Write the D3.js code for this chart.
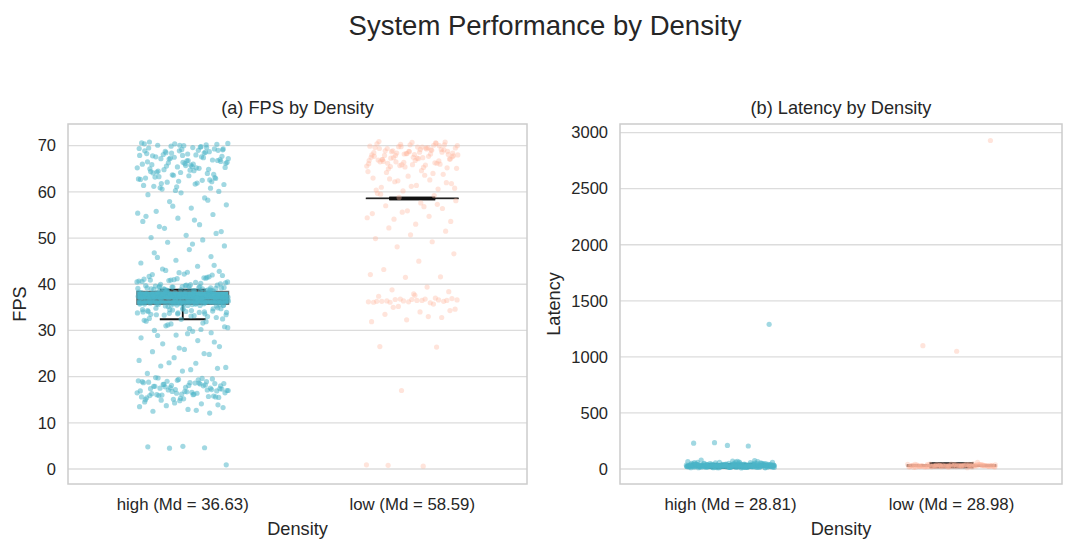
<!DOCTYPE html>
<html>
<head>
<meta charset="utf-8">
<script src="https://cdn.jsdelivr.net/npm/d3@7"></script>
<style>
  body { margin: 0; background: #fff; }
  text { font-family: "Liberation Sans", Arial, sans-serif; fill: #262626; }
</style>
</head>
<body>
<svg id="mainsvg" width="1070" height="540"></svg>
<script>
const svg = d3.select('#mainsvg');

// ---- data ----
const categories = ['high', 'low'];
const fpsMedians = [36.63, 58.59];
const latencyMedians = [28.81, 28.98];
const fpsTicks = [0, 10, 20, 30, 40, 50, 60, 70];
const latencyTicks = [0, 500, 1000, 1500, 2000, 2500, 3000];

// box stats: [whiskerLo, q1, median, q3, whiskerHi]
const fpsBoxHigh = [32.4, 35.65, 36.63, 38.46, 38.8];
const fpsBoxLow = [58.59, 58.55, 58.59, 58.63, 58.59];
const latencyBoxHigh = [12, 21, 28.81, 36, 44];
const latencyBoxLow = [15, 24, 28.98, 36, 50];

const fpsHigh = [
  70.8, 70.2, 69.9, 70.5, 69.6, 70.1, 69.3, 68.9, 70.4, 69.8, 68.5, 69.1, 68.2, 67.8, 68.7, 67.5, 69.4, 68.0, 67.2, 66.8,
  67.9, 66.5, 68.4, 67.1, 66.2, 65.8, 67.6, 66.9, 65.4, 66.0, 65.1, 64.8, 66.6, 65.7, 64.4, 64.0, 63.7, 65.2, 64.6, 63.3,
  62.9, 64.2, 63.0, 62.5, 62.1, 61.6, 63.5, 61.2, 60.8, 60.3, 62.7, 61.9, 60.6, 60.1, 70.0, 69.5, 68.6, 67.3, 66.4, 65.5,
  64.3, 63.8, 62.3, 61.4, 69.7, 68.8, 67.7, 66.7, 65.9, 64.9, 63.6, 62.8, 61.7, 60.9, 70.3, 69.2, 68.3, 67.4, 66.3, 65.3,
  64.7, 63.2, 62.2, 61.1, 70.6, 69.0, 68.1, 67.0, 66.1, 65.0, 69.6, 68.4, 67.2, 66.0, 64.5, 63.1, 70.1, 68.9, 67.6, 65.6,
  69.3, 66.8, 64.1, 62.6, 70.4, 67.9, 65.2, 61.8, 69.0, 66.4,
  59.4, 58.7, 57.9, 57.2, 56.5, 55.8, 55.1, 54.3, 53.6, 52.9, 52.1, 51.4, 50.6, 50.1, 58.2, 56.9, 55.4, 53.9, 52.5, 51.0,
  59.8, 54.7,
  49.6, 49.1, 48.3, 47.5, 46.8, 46.0, 45.2, 44.6, 43.9, 43.3, 42.8, 42.2, 41.7, 41.3, 40.9, 40.5, 48.7, 45.8, 44.1, 42.5,
  41.1, 40.2, 43.0, 41.9, 42.6, 42.1, 41.6, 41.0, 40.7, 40.4, 40.0, 39.8, 39.5, 39.2, 41.4, 40.8, 40.3, 39.9, 39.6, 42.0,
  41.2, 40.6, 39.3, 39.0, 40.1, 39.7, 40.9, 41.5, 39.4, 40.5,
  38.6, 37.2, 36.4, 35.8, 37.9, 36.9, 38.2, 35.5, 36.1, 37.5, 38.8, 36.7, 35.9, 37.0, 38.4, 36.3, 35.6, 37.7, 36.0, 38.0,
  37.3, 36.6, 35.7, 38.5, 36.8, 37.1, 35.4, 38.1, 36.2, 37.6, 36.5, 38.3, 35.8, 37.4, 36.9, 38.7, 35.3, 37.8, 36.4, 37.0,
  35.2, 36.7, 38.9, 37.3, 36.1, 35.9, 38.2, 36.6, 37.5, 35.6, 37.9, 36.3, 38.6, 35.5, 37.2, 36.8, 38.0, 36.0, 37.7, 35.7,
  36.5, 38.4, 37.1, 35.4, 36.9, 38.1, 37.6, 36.2, 35.8, 37.4, 34.9, 34.6, 34.3, 34.0, 33.7, 33.4, 33.1, 34.8, 34.2, 33.6,
  34.5, 33.9, 33.3, 34.7, 34.1, 33.5, 33.0, 34.4, 33.8, 33.2, 39.4, 39.1, 38.8, 39.7, 39.0, 38.7, 39.3, 39.6, 38.9, 39.2,
  36.6, 37.0, 36.3, 37.4, 36.8, 35.9, 37.2, 36.1, 37.8, 36.5, 35.6, 38.2, 36.7, 37.5, 36.0, 38.5, 35.3, 37.1, 36.4, 37.9,
  37.6, 36.2, 38.3, 35.7, 36.9, 37.3, 36.5, 38.0, 35.8, 37.0, 36.6, 37.7, 36.3, 38.6, 35.5, 37.2, 36.8, 37.9, 36.1, 38.4,
  35.9, 36.7, 37.4, 36.4, 38.1, 35.6, 37.1, 36.0, 37.8, 36.9, 38.7, 35.4, 36.6, 37.5, 36.2, 38.2, 35.7, 37.0, 36.5, 37.6,
  34.8, 34.1, 33.6, 34.5, 33.9, 34.3, 33.4, 34.7, 33.8, 34.0, 39.5, 38.9, 39.2, 39.8, 39.0, 38.8, 39.4, 39.1, 38.6, 39.6,
  32.8, 32.4, 32.0, 31.6, 31.2, 30.8, 30.4, 30.0, 29.5, 29.0, 28.4, 27.8, 27.1, 26.5, 25.9, 32.6, 31.9, 31.4, 30.6, 29.8,
  28.9, 27.5, 26.2, 32.2, 30.2, 31.0, 32.5, 29.3,
  25.4, 24.8, 24.1, 23.5, 22.9, 22.3, 21.8, 21.2, 20.7, 25.0, 23.0, 22.0, 21.5,
  19.8, 19.5, 19.2, 18.9, 18.6, 18.3, 18.0, 17.7, 17.4, 17.1, 16.8, 16.5, 16.2, 15.9, 15.6, 15.3, 15.0, 19.6, 19.0, 18.5,
  18.1, 17.9, 17.5, 17.2, 16.9, 16.4, 16.0, 15.5, 15.2, 18.8, 18.2, 17.6, 17.0, 16.6, 16.1, 15.8, 19.4, 18.7, 18.4, 17.8,
  17.3, 16.7, 16.3, 15.7, 15.1, 19.1, 18.6, 17.5, 16.9, 16.2, 15.4, 18.0, 17.1, 16.5, 18.7, 17.9, 17.2, 16.4, 15.6, 19.3,
  18.3, 17.4, 16.8, 15.9, 18.9, 18.1, 17.0, 16.1, 19.7, 18.5,
  14.8, 14.5, 14.1, 13.7, 13.3, 12.9, 12.5, 12.1, 14.3, 13.5, 12.7, 14.9, 13.9,
  4.9, 4.8, 4.6, 4.5, 0.9
];

const fpsLow = [
  70.9, 70.6, 70.3, 70.0, 69.7, 69.4, 69.1, 68.8, 68.5, 68.2, 67.9, 67.6, 67.3, 67.0, 66.7, 66.4, 66.1, 65.8, 65.5, 65.2,
  70.7, 70.4, 70.1, 69.8, 69.5, 69.2, 68.9, 68.6, 68.3, 68.0, 67.7, 67.4, 67.1, 66.8, 66.5, 66.2, 65.9, 65.6, 65.3, 65.0,
  70.8, 70.2, 69.6, 69.0, 68.4, 67.8, 67.2, 66.6, 66.0, 65.4, 69.9, 69.3, 68.7, 68.1, 67.5, 66.9, 66.3, 65.7, 65.1, 64.6,
  64.2, 63.8, 63.4, 63.0, 62.6, 62.2, 61.8, 61.4, 61.0, 60.6, 60.2, 64.4, 63.6, 62.8, 62.0, 61.2, 60.4, 64.0, 62.4, 60.8,
  68.6, 67.9, 69.2, 68.3, 67.5, 69.6, 68.9, 67.1, 68.1, 69.4, 70.5, 69.8, 68.0, 67.4, 66.2, 70.2, 68.7, 67.7, 69.1, 66.5,
  68.4, 69.7, 67.0, 70.0, 68.2, 66.8, 69.5, 67.3, 68.8, 65.9,
  59.7, 59.2, 58.8, 58.1, 57.6, 57.0, 56.4, 55.9, 55.3, 54.7, 54.1, 53.6, 53.0, 59.5, 57.3, 55.6, 54.4, 56.8,
  52.2, 51.5, 50.7, 49.9, 49.2, 48.1, 46.6, 45.0, 43.2, 41.6, 41.5, 42.1,
  39.4, 38.8, 38.4, 37.9, 37.4, 37.0, 36.8, 36.6, 36.5, 36.4, 36.3, 36.2, 36.1, 36.0, 36.7, 36.9, 36.5, 36.3, 36.6, 36.4,
  36.2, 36.8, 36.1, 36.5, 36.7, 36.3, 35.7, 35.2, 34.6, 34.0, 33.5, 32.8, 32.3, 31.9, 33.0, 35.0, 34.3, 37.6,
  26.5, 26.4, 17.0, 0.9, 0.6, 0.8
];

const latencyHigh = [
  12, 18, 25, 31, 22, 15, 28, 35, 40, 19, 26, 33, 21, 17, 29, 38, 24, 14, 30, 45,
  27, 36, 20, 11, 32, 43, 23, 16, 34, 50, 28, 13, 37, 25, 19, 41, 30, 22, 9, 35,
  47, 26, 18, 31, 55, 24, 39, 29, 15, 33, 21, 44, 27, 10, 36, 60, 23, 30, 17, 42,
  28, 52, 20, 34, 14, 38, 26, 48, 31, 19, 25, 65, 32, 22, 40, 16, 29, 57, 35, 24,
  18, 46, 27, 33, 12, 39, 21, 30, 70, 26, 43, 28, 15, 36, 23, 53, 31, 20, 37, 25,
  29, 62, 34, 17, 41, 27, 22, 49, 32, 13, 38, 24, 30, 58, 26, 19, 35, 44, 28, 21,
  33, 16, 40, 25, 75, 31, 22, 36, 18, 29, 51, 27, 34, 14, 42, 23, 30, 66, 26, 39,
  20, 32, 47, 24, 37, 28, 11, 35, 54, 25, 30, 19, 43, 27, 33, 22, 38, 80, 29, 24,
  31, 20, 27, 36, 15, 42, 24, 33, 18, 29, 50, 22, 38, 26, 13, 35, 30, 45, 21, 28,
  17, 34, 25, 40, 31, 19, 56, 27, 23, 37, 14, 32, 48, 26, 20, 39, 29, 16, 35, 24,
  44, 30, 22, 61, 28, 18, 36, 25, 33, 12, 41, 27, 21, 53, 32, 19, 38, 26, 30, 15,
  46, 23, 34, 28, 68, 20, 37, 25, 31, 17, 43, 29, 22, 35, 26, 59, 33, 18, 39, 24,
  210, 230, 205, 235, 1290
];

const latencyLow = [
  22, 28, 33, 18, 25, 38, 30, 15, 27, 41, 24, 32, 20, 29, 36, 26, 19, 34, 23, 31,
  44, 28, 17, 35, 25, 30, 21, 39, 27, 33, 12, 29, 24, 37, 26, 31, 20, 42, 28, 23,
  34, 30, 16, 27, 36, 25, 32, 22, 40, 29, 26, 35, 19, 31, 24, 28, 45, 33, 21, 30,
  27, 38, 25, 14, 32, 29, 23, 36, 28, 26, 34, 20, 31, 43, 27, 24, 37, 30, 22, 33,
  29, 18, 35, 26, 31, 40, 25, 28, 32, 21, 30, 24, 36, 27, 19, 33, 28, 41, 23, 29,
  2930, 1050, 1100, 60
];

// ---- layout ----
const plotTop = 124, plotBottom = 484;
const panels = [
  {
    x0: 68, x1: 527, title: '(a) FPS by Density', ylabel: 'FPS', ylabelX: 20,
    domain: [-3.25, 74.7], ticks: fpsTicks, medians: fpsMedians,
    series: [fpsHigh, fpsLow], boxes: [fpsBoxHigh, fpsBoxLow]
  },
  {
    x0: 620, x1: 1062, title: '(b) Latency by Density', ylabel: 'Latency', ylabelX: 554,
    domain: [-134, 3077], ticks: latencyTicks, medians: latencyMedians,
    series: [latencyHigh, latencyLow], boxes: [latencyBoxHigh, latencyBoxLow]
  }
];
const colors = ['#4BB5C8', '#FFB59C'];

// deterministic spread for strip jitter (position only)
const jit = i => ((i * 0.61803398875 + 0.137) % 1) - 0.5;

svg.append('text')
  .attr('x', 545).attr('y', 35)
  .attr('text-anchor', 'middle')
  .attr('font-size', 27.5)
  .text('System Performance by Density');

panels.forEach(p => {
  const x = d3.scaleBand().domain(categories).range([p.x0, p.x1]).padding(0);
  const y = d3.scaleLinear().domain(p.domain).range([plotBottom, plotTop]);
  const bw = x.bandwidth();
  const cx = c => x(c) + bw / 2;
  const g = svg.append('g');

  // grid
  g.selectAll('line.grid').data(p.ticks).join('line')
    .attr('class', 'grid')
    .attr('x1', p.x0).attr('x2', p.x1)
    .attr('y1', d => y(d)).attr('y2', d => y(d))
    .attr('stroke', '#dcdcdc').attr('stroke-width', 1.3);

  // frame
  g.append('rect')
    .attr('x', p.x0).attr('y', plotTop)
    .attr('width', p.x1 - p.x0).attr('height', plotBottom - plotTop)
    .attr('fill', 'none').attr('stroke', '#cccccc').attr('stroke-width', 1.5);

  // y axis
  const ya = g.append('g')
    .attr('transform', `translate(${p.x0},0)`)
    .call(d3.axisLeft(y).tickValues(p.ticks).tickFormat(d3.format('d')).tickSize(0).tickPadding(12));
  ya.select('.domain').remove();
  ya.selectAll('text').attr('font-size', 16.5).attr('fill', '#262626')
    .style('font-family', '"Liberation Sans", Arial, sans-serif');

  // x axis
  const xa = g.append('g')
    .attr('transform', `translate(0,${plotBottom})`)
    .call(d3.axisBottom(x).tickSize(0).tickPadding(14)
      .tickFormat((d, i) => `${d} (Md = ${p.medians[i].toFixed(2)})`));
  xa.select('.domain').remove();
  xa.selectAll('text').attr('font-size', 16.8).attr('fill', '#262626')
    .style('font-family', '"Liberation Sans", Arial, sans-serif');

  // titles
  g.append('text')
    .attr('x', (p.x0 + p.x1) / 2).attr('y', 114)
    .attr('text-anchor', 'middle').attr('font-size', 18.2)
    .text(p.title);
  g.append('text')
    .attr('x', (p.x0 + p.x1) / 2).attr('y', 535)
    .attr('text-anchor', 'middle').attr('font-size', 18.2)
    .text('Density');
  g.append('text')
    .attr('transform', `translate(${p.ylabelX},${(plotTop + plotBottom) / 2}) rotate(-90)`)
    .attr('text-anchor', 'middle').attr('dy', '0.35em').attr('font-size', 18.2)
    .text(p.ylabel);

  // boxes
  categories.forEach((c, k) => {
    const [wl, q1, med, q3, wh] = p.boxes[k];
    const c0 = cx(c);
    const boxW = bw * 0.4, capW = bw * 0.2;
    const edge = k === 0 ? '#5f6f73' : '#222';
    const bg = g.append('g');
    bg.append('rect')
      .attr('x', c0 - boxW / 2).attr('width', boxW)
      .attr('y', y(q3)).attr('height', Math.max(0, y(q1) - y(q3)))
      .attr('fill', colors[k]).attr('stroke', edge).attr('stroke-width', 1.2);
    bg.append('line')
      .attr('x1', c0 - boxW / 2).attr('x2', c0 + boxW / 2)
      .attr('y1', y(med)).attr('y2', y(med))
      .attr('stroke', edge).attr('stroke-width', 1.2);
    [[wl, q1], [wh, q3]].forEach(([w, q]) => {
      bg.append('line')
        .attr('x1', c0).attr('x2', c0).attr('y1', y(w)).attr('y2', y(q))
        .attr('stroke', '#111').attr('stroke-width', 1.8);
      bg.append('line')
        .attr('x1', c0 - capW / 2).attr('x2', c0 + capW / 2)
        .attr('y1', y(w)).attr('y2', y(w))
        .attr('stroke', '#111').attr('stroke-width', k === 1 && p.ylabel === 'FPS' ? 3.5 : 2);
    });
  });

  // strip points
  categories.forEach((c, k) => {
    g.append('g').selectAll('circle')
      .data(p.series[k]).join('circle')
      .attr('cx', (d, i) => cx(c) + jit(i) * bw * 0.4)
      .attr('cy', d => y(d))
      .attr('r', 2.6)
      .attr('fill', colors[k])
      .attr('fill-opacity', k === 0 ? 0.52 : 0.36);
  });
});
</script>
</body>
</html>
